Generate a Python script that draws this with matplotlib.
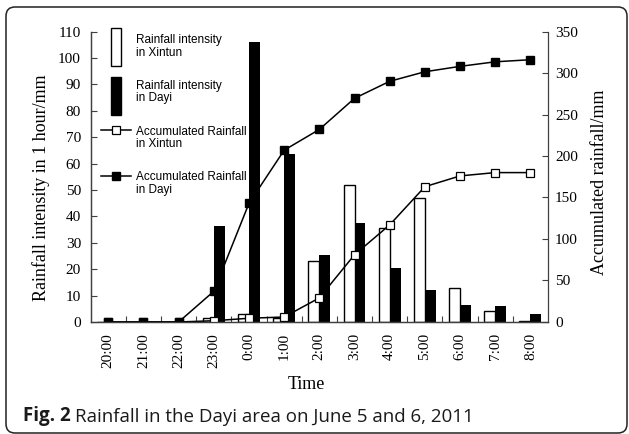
import numpy as np
import matplotlib.pyplot as plt
from matplotlib.patches import Patch, Rectangle, FancyBboxPatch
from matplotlib.lines import Line2D
from matplotlib.legend_handler import HandlerPatch, HandlerLine2D
from matplotlib.transforms import IdentityTransform

hours = ["20:00", "21:00", "22:00", "23:00", "0:00", "1:00", "2:00",
         "3:00", "4:00", "5:00", "6:00", "7:00", "8:00"]
intensity_xintun = [0, 0, 0, 1.5, 3, 1.5, 23, 52, 35.5, 47, 13, 4, 0.3]
intensity_dayi = [0, 0, 0, 36.5, 106, 63.5, 25.5, 37.5, 20.5, 12, 6.5, 6, 3]
accum_xintun = [0, 0, 0, 1.5, 4.5, 6, 29, 81, 117, 163, 176, 180, 180]
accum_dayi = [0, 0, 0, 37, 143, 207, 232, 269.5, 290, 301.5, 308, 313.5, 316]

serif = "Liberation Serif"
sans = "Liberation Sans"
axis_col = "#404040"

fig = plt.figure(figsize=(6.29, 4.34), dpi=100)
ax = fig.add_axes([0.1442, 0.2581, 0.7270, 0.6693])
ax2 = ax.twinx()

x = np.arange(len(hours))
w = 0.31
ax.bar(x - w, intensity_xintun, width=w, align="edge", facecolor="white",
       edgecolor="black", linewidth=1.0)
ax.bar(x, intensity_dayi, width=w, align="edge", color="black")

ax2.plot(x, accum_xintun, color="black", lw=1.1, marker="s", ms=5.5,
         mfc="white", mec="black", mew=0.9)
ax2.plot(x, accum_dayi, color="black", lw=1.1, marker="s", ms=5.5,
         mfc="black", mec="black")

ax.set_xlim(-0.5, len(hours) - 0.5)
ax.set_ylim(0, 110)
ax2.set_ylim(0, 350)
ax.set_yticks(np.arange(0, 111, 10))
ax2.set_yticks(np.arange(0, 351, 50))
ax.set_xticks(x)
ax.set_xticklabels(hours, rotation=90, family=serif, fontsize=11)
ax.set_xticks(np.arange(0.5, len(hours) - 1, 1), minor=True)
ax.tick_params(axis="x", which="major", length=0, pad=8)
ax.tick_params(axis="x", which="minor", direction="in", length=4,
               width=0.8, color=axis_col)
ax.tick_params(axis="y", direction="in", length=4, width=0.8,
               color=axis_col, pad=7)
ax2.tick_params(axis="y", direction="in", length=4, width=0.8,
                color=axis_col, pad=5)
for lab in ax.get_yticklabels() + ax2.get_yticklabels():
    lab.set_family(serif)
    lab.set_fontsize(11)

for a in (ax, ax2):
    a.spines["top"].set_visible(False)
    for s in a.spines.values():
        s.set_color(axis_col)
        s.set_linewidth(0.9)
ax.spines["right"].set_visible(False)

ax.set_ylabel("Rainfall intensity in 1 hour/mm", family=serif, fontsize=13)
ax.yaxis.set_label_coords(-0.088, 0.463)
ax2.set_ylabel("Accumulated rainfall/mm", family=serif, fontsize=13)
ax2.yaxis.set_label_coords(1.095, 0.48)
ax.set_xlabel("Time", family=serif, fontsize=13)
ax.xaxis.set_label_coords(0.472, -0.185)

BAR_PT = 27.4  # legend bar height in points


def bar_handle(center):
    def make(legend, orig_handle, xdescent, ydescent, width, height, fontsize):
        return Rectangle((-xdescent + 0.34 * width, center - BAR_PT / 2),
                         0.32 * width, BAR_PT)
    return make


class RaisedLine(HandlerLine2D):
    def create_artists(self, legend, orig_handle, xdescent, ydescent,
                       width, height, fontsize, trans):
        arts = super().create_artists(legend, orig_handle, xdescent, ydescent,
                                      width, height, fontsize, trans)
        for a in arts:
            a.set_ydata(np.asarray(a.get_ydata()) + 0.09 * fontsize)
        return arts


h_xt = Patch(facecolor="white", edgecolor="black", linewidth=1.0)
h_dy = Patch(facecolor="black", edgecolor="black")
h_axt = Line2D([], [], color="black", lw=1.1, marker="s", ms=5.5,
               mfc="white", mec="black", mew=0.9)
h_ady = Line2D([], [], color="black", lw=1.1, marker="s", ms=5.5,
               mfc="black", mec="black")
leg = ax2.legend(
    [h_xt, h_dy, h_axt, h_ady],
    ["Rainfall intensity\nin Xintun", "Rainfall intensity\nin Dayi",
     "Accumulated Rainfall\nin Xintun", "Accumulated Rainfall\nin Dayi"],
    handler_map={h_xt: HandlerPatch(patch_func=bar_handle(2.9)),
                 h_dy: HandlerPatch(patch_func=bar_handle(0.5)),
                 h_axt: RaisedLine(), h_ady: RaisedLine()},
    loc="upper left", bbox_to_anchor=(0.022, 1.0086), frameon=False,
    borderpad=0, borderaxespad=0, handlelength=2.6, handleheight=4.58,
    handletextpad=0.42, labelspacing=0.65,
    prop={"family": sans, "size": 8.5})
for t in leg.get_texts():
    t.set_linespacing(1.05)

# caption: bold figure number followed by regular text
cap_y = (434 - 421.5) / 434
t1 = fig.text(22.7 / 629, cap_y, "Fig. 2", family="Open Sans",
              weight="bold", fontsize=13.5, va="baseline", color="#1a1a1a")
fig.canvas.draw()
bb = t1.get_window_extent(renderer=fig.canvas.get_renderer())
fig.text(bb.x1 / 629 + 5 / 629, cap_y,
         "Rainfall in the Dayi area on June 5 and 6, 2011",
         family="Open Sans", fontsize=13.5, va="baseline", color="#1a1a1a")

frame = FancyBboxPatch((6, 1), 621, 426, boxstyle="round,pad=0,rounding_size=9",
                       transform=IdentityTransform(), facecolor="none",
                       edgecolor="#222222", linewidth=1.1)
fig.patches.append(frame)

fig.savefig("out.png", dpi=100)
